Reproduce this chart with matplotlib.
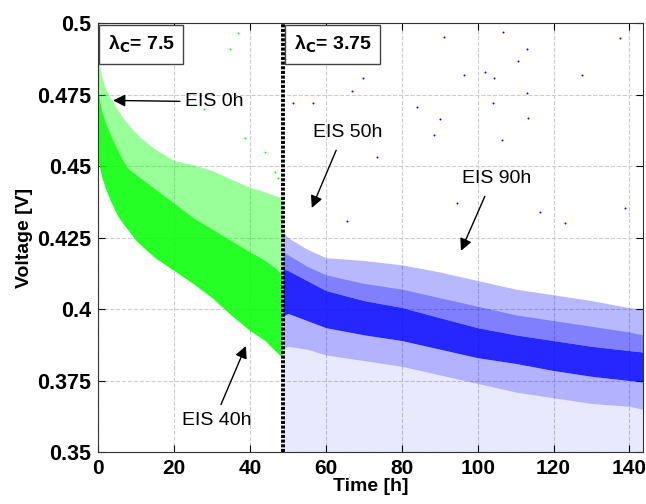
import matplotlib
matplotlib.use('Agg')
import matplotlib.pyplot as plt

plt.rcParams['font.family'] = ['Liberation Sans', 'DejaVu Sans']

# Green cloud (lambda_C = 7.5), envelopes
green_t = [0, 0.5, 1, 2, 3.2, 5, 6.5, 8, 10, 12, 15, 20, 25, 30, 35, 40, 44, 47, 48.5]
green_top = [0.489, 0.484, 0.481, 0.477, 0.474, 0.470, 0.467, 0.4645, 0.4615, 0.459,
             0.456, 0.452, 0.4505, 0.4485, 0.4455, 0.4426, 0.441, 0.4395, 0.439]
green_mid = [0.476, 0.472, 0.469, 0.465, 0.461, 0.456, 0.452, 0.449, 0.447, 0.445,
             0.442, 0.437, 0.432, 0.428, 0.424, 0.420, 0.417, 0.414, 0.412]
green_bottom = [0.452, 0.449, 0.446, 0.442, 0.438, 0.433, 0.430, 0.4275, 0.424, 0.4215,
                0.418, 0.4135, 0.409, 0.404, 0.398, 0.3925, 0.389, 0.385, 0.383]

# Blue cloud (lambda_C = 3.75)
blue_t = [48.7, 50, 55, 60, 70, 80, 90, 100, 110, 120, 130, 140, 143.5]
blue_halo_top = [0.427, 0.425, 0.421, 0.418, 0.417, 0.4155, 0.413, 0.410, 0.407, 0.405,
                 0.403, 0.4005, 0.400]
blue_inner_top = [0.420, 0.419, 0.415, 0.412, 0.409, 0.407, 0.404, 0.401, 0.398, 0.396,
                  0.394, 0.392, 0.391]
blue_core_top = [0.414, 0.4135, 0.410, 0.4065, 0.403, 0.4006, 0.397, 0.3935, 0.391, 0.389,
                 0.387, 0.3855, 0.385]
blue_core_bottom = [0.3975, 0.3985, 0.396, 0.3935, 0.391, 0.389, 0.386, 0.383, 0.381,
                    0.3785, 0.3765, 0.375, 0.3745]
blue_halo_bottom = [0.386, 0.387, 0.386, 0.384, 0.382, 0.380, 0.377, 0.374, 0.371,
                    0.369, 0.367, 0.366, 0.365]

# isolated points
green_out_t = [36.8, 34.7, 38.7, 28.0, 44.0, 46.5, 47.5]
green_out_v = [0.4965, 0.4909, 0.460, 0.4700, 0.4550, 0.4480, 0.4460]
blue_out_t = [91, 106.6, 113, 110.5, 96.3, 101.8, 104.4, 127.6, 137.4, 69.7, 67, 112.9,
              84, 104, 113.2, 90, 88.4, 106.3, 73.4, 138.7, 122.9, 116.3, 94.5, 65.5,
              51.3, 56.6]
blue_out_v = [0.495, 0.4969, 0.491, 0.4867, 0.482, 0.4829, 0.4808, 0.4818, 0.4947, 0.481,
              0.4762, 0.4755, 0.4706, 0.472, 0.4667, 0.4664, 0.4608, 0.459, 0.4531,
              0.4352, 0.430, 0.4339, 0.437, 0.4307, 0.472, 0.472]

switch_t = 48.7
y_ticks = [0.35, 0.375, 0.4, 0.425, 0.45, 0.475, 0.5]
y_labels = ['0.35', '0.375', '0.4', '0.425', '0.45', '0.475', '0.5']
x_ticks = [0, 20, 40, 60, 80, 100, 120, 140]

fig = plt.figure(figsize=(6.46, 5.04), dpi=100)
ax = fig.add_axes([0.152, 0.103, 0.843, 0.851])

green = '#00ff00'
blue = '#0000ff'

# green cloud
ax.fill_between(green_t, green_bottom, green_top, color=green, alpha=0.4, lw=0)
ax.fill_between(green_t, green_bottom, green_mid, color=green, alpha=0.75, lw=0)
ax.scatter(green_out_t, green_out_v, s=2, color=green, lw=0)

# blue cloud
ax.fill_between(blue_t, 0.35, blue_halo_bottom, color=blue, alpha=0.09, lw=0)
ax.fill_between(blue_t, blue_halo_bottom, blue_core_bottom, color=blue, alpha=0.3, lw=0)
ax.fill_between(blue_t, blue_core_top, blue_halo_top, color=blue, alpha=0.28, lw=0)
ax.fill_between(blue_t, blue_core_top, blue_inner_top, color=blue, alpha=0.3, lw=0)
ax.fill_between(blue_t, blue_core_bottom, blue_core_top, color=blue, alpha=0.85, lw=0)
ax.scatter(blue_out_t, blue_out_v, s=2, color=blue, lw=0)

ax.axvline(switch_t, color='black', lw=2.8, ls=(0, (0.8, 0.4)))

ax.set_xlim(0, 143.5)
ax.set_ylim(0.35, 0.5)
ax.set_xticks(x_ticks)
ax.set_xticklabels([str(v) for v in x_ticks], fontsize=15, fontweight='bold')
ax.set_yticks(y_ticks)
ax.set_yticklabels(y_labels, fontsize=15.5, fontweight='bold')
ax.tick_params(direction='in', top=True, right=True, length=5, pad=5)
ax.grid(True, color='#cccccc', ls='--', lw=0.8)
ax.set_axisbelow(True)
for s in ax.spines.values():
    s.set_color('#333333')

ax.set_xlabel('Time [h]', fontsize=14, fontweight='bold', labelpad=0)
ax.set_ylabel('Voltage [V]', fontsize=14, fontweight='bold', labelpad=3)

box = dict(boxstyle='square,pad=0.45', facecolor='white', edgecolor='#444444', lw=1)
ax.text(2.5, 0.4925, r'λ$_\mathbf{C}$= 7.5', fontsize=14, fontweight='bold',
        va='center', ha='left', bbox=box)
ax.text(51.5, 0.4925, r'λ$_\mathbf{C}$= 3.75', fontsize=14, fontweight='bold',
        va='center', ha='left', bbox=box)

arrow = dict(arrowstyle='-|>', color='black', lw=1, mutation_scale=18)
ax.annotate('EIS 0h', xy=(3.2, 0.473), xytext=(23, 0.4725), fontsize=14,
            va='center', ha='left', arrowprops=arrow)
ax.annotate('EIS 40h', xy=(39.2, 0.388), xytext=(22, 0.361), fontsize=14,
            va='center', ha='left', arrowprops=dict(arrow, relpos=(0.55, 1.3)))
ax.annotate('EIS 50h', xy=(56, 0.4345), xytext=(56.6, 0.4618), fontsize=14,
            va='center', ha='left', arrowprops=dict(arrow, relpos=(0.35, -0.4)))
ax.annotate('EIS 90h', xy=(95.3, 0.4195), xytext=(95.8, 0.4457), fontsize=14,
            va='center', ha='left', arrowprops=dict(arrow, relpos=(0.35, -0.4)))

plt.savefig('out.png', dpi=100)
